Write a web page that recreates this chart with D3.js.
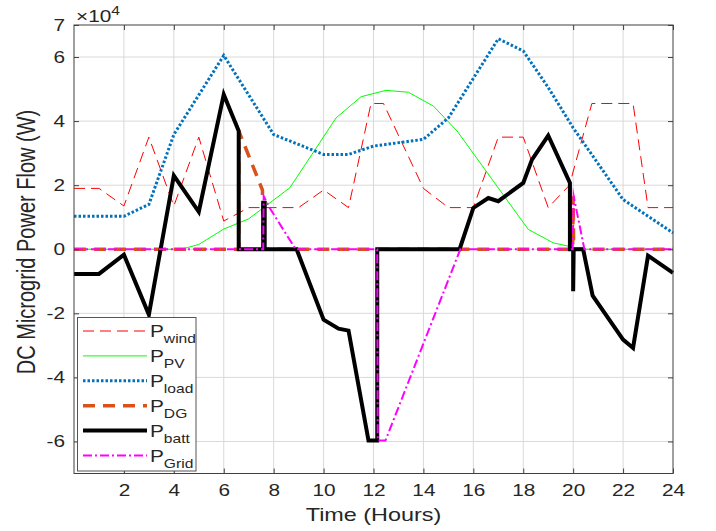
<!DOCTYPE html>
<html lang="en">
<head>
<meta charset="UTF-8" />
<title>DC Microgrid Power Flow</title>
<script src="https://d3js.org/d3.v7.min.js"></script>
<style>
  body { margin: 0; background: #fff; }
  text { font-family: "Liberation Sans", Arial, sans-serif; fill: #262626; }
  .grid line { stroke: #d9d9d9; stroke-width: 1; }
  .axis path, .axis line { stroke: #404040; }
</style>
</head>
<body>
<svg id="chart" width="716" height="531"></svg>
<script>
// hours / watts
const windT = [0, 1, 2, 3, 4, 5, 6, 7, 8, 9, 10, 11, 11.9, 12.4, 14, 15, 16, 17, 18, 19, 19.85, 20.75, 22.4, 23, 24];
const windP = [19000, 19000, 13500, 35000, 13500, 35000, 8800, 13000, 13000, 13000, 18500, 13000, 45500, 45500, 19000, 13000, 13000, 35000, 35000, 13000, 20000, 45500, 45500, 13000, 13000];

const pvT = [0, 4.3, 5, 6, 7, 8.65, 10.5, 11.5, 12.5, 13.4, 14.4, 15.35, 18.2, 19.2, 19.9, 20.1, 24];
const pvP = [0, 0, 1500, 6300, 9500, 19200, 41000, 47600, 49600, 49000, 44700, 36900, 6200, 2000, 800, 0, 0];

const loadT = [0, 2, 3, 4, 6, 8, 10, 11, 12, 14, 15, 17, 18, 19, 20, 22, 24];
const loadP = [10300, 10300, 14000, 35800, 60500, 35800, 29600, 29600, 32200, 34300, 41000, 65700, 61900, 50500, 37900, 15500, 5100];

const dgT = [0, 6.6, 6.6, 7.55, 7.6, 19.98, 20.0, 20.02, 24];
const dgP = [0, 0, 37000, 18500, 0, 0, 16500, 0, 0];

const battT = [0, 1, 2, 3, 4, 5, 6, 6.6, 6.6, 7.58, 7.58, 7.64, 7.64, 8.92, 10, 10.6, 11, 11.8, 12.15, 12.15, 15.45, 16, 16.6, 17, 18, 18.35, 19, 19.87, 19.87, 20.0, 20.0, 20.02, 20.4, 20.78, 22, 22.4, 23, 24];
const battP = [-7700, -7700, -1700, -20400, 23000, 11700, 48300, 36900, 0, 0, 14500, 14500, 0, 0, -22000, -24800, -25400, -59700, -59700, 0, 0, 12900, 16000, 15000, 20700, 28000, 35500, 20700, 0, 0, -13100, 0, 0, -14500, -28200, -30800, -2000, -7400];

const gridT = [0, 7.58, 7.6, 7.85, 8.88, 12.15, 12.17, 12.48, 15.48, 19.98, 20.02, 20.45, 24];
const gridP = [0, 0, 16600, 12800, 0, 0, -59700, -59700, 0, 0, 16600, 0, 0];

const xTicks = [2, 4, 6, 8, 10, 12, 14, 16, 18, 20, 22, 24];
const yTicks = [-60000, -40000, -20000, 0, 20000, 40000, 60000, 70000];

const labels = ["wind", "PV", "load", "DG", "batt", "Grid"];

// glyphs in the figure are a bit wider than normal
const SX = 1.3;

const mLeft = 74, mRight = 673, mTop = 25, mBottom = 473.5;

const svg = d3.select("#chart");

const x = d3.scaleLinear().domain([0, 24]).range([mLeft, mRight]);
const y = d3.scaleLinear().domain([-70000, 70000]).range([mBottom, mTop]);

// grid
const grid = svg.append("g").attr("class", "grid");
grid.selectAll(".gx")
  .data(xTicks.filter(d => d < 24))
  .enter()
  .append("line")
  .attr("x1", d => x(d)).attr("x2", d => x(d))
  .attr("y1", mTop).attr("y2", mBottom);
grid.selectAll(".gy")
  .data(yTicks.filter(d => d < 70000))
  .enter()
  .append("line")
  .attr("x1", mLeft).attr("x2", mRight)
  .attr("y1", d => y(d)).attr("y2", d => y(d));

// series
const styles = [
  { t: windT, p: windP, color: "#ff0000", width: 1, dash: "11,6" },
  { t: pvT, p: pvP, color: "#00ff00", width: 1, dash: null },
  { t: loadT, p: loadP, color: "#0072bd", width: 3, dash: "2.5,2" },
  { t: dgT, p: dgP, color: "#d95319", width: 3.5, dash: "12,8" },
  { t: battT, p: battP, color: "#000000", width: 4, dash: null },
  { t: gridT, p: gridP, color: "#ff00ff", width: 2, dash: "9,3,2,3" },
];

const line = d3.line().x(d => x(d[0])).y(d => y(d[1]));

styles.forEach(function (s) {
  svg.append("path")
    .datum(d3.zip(s.t, s.p))
    .attr("d", line)
    .attr("fill", "none")
    .attr("stroke", s.color)
    .attr("stroke-width", s.width)
    .attr("stroke-linejoin", "miter")
    .attr("stroke-miterlimit", 10)
    .attr("stroke-dasharray", s.dash);
});

// axes (box with inside ticks)
const ax = svg.append("g").attr("class", "axis");

const bottomAxis = ax.append("g")
  .attr("transform", `translate(0,${mBottom})`)
  .call(d3.axisBottom(x).tickValues(xTicks).tickSize(-5).tickPadding(11.5).tickSizeOuter(0));
bottomAxis.selectAll("text")
  .style("font-size", "16px")
  .attr("transform", `scale(${SX},1)`);

ax.append("g")
  .attr("transform", `translate(0,${mTop})`)
  .call(d3.axisTop(x).tickValues(xTicks).tickSize(-5).tickSizeOuter(0).tickFormat(""));

const leftAxis = ax.append("g")
  .attr("transform", `translate(${mLeft},0)`)
  .call(d3.axisLeft(y).tickValues(yTicks).tickSize(-5).tickPadding(9).tickSizeOuter(0)
    .tickFormat(d => d / 10000));
leftAxis.selectAll("text")
  .style("font-size", "16px")
  .attr("x", -9 / SX)
  .attr("transform", `scale(${SX},1)`);

ax.append("g")
  .attr("transform", `translate(${mRight},0)`)
  .call(d3.axisRight(y).tickValues(yTicks).tickSize(-5).tickSizeOuter(0).tickFormat(""));

ax.selectAll(".domain").remove();
svg.append("rect")
  .attr("x", mLeft).attr("y", mTop)
  .attr("width", mRight - mLeft).attr("height", mBottom - mTop)
  .attr("fill", "none")
  .attr("stroke", "#404040")
  .attr("stroke-width", 1);

// exponent
const ex = svg.append("text")
  .attr("transform", `translate(76,22) scale(${SX},1)`)
  .style("font-size", "16px");
ex.append("tspan").text("\u00d710");
ex.append("tspan").attr("dy", -7).style("font-size", "12px").text("4");

// axis labels
svg.append("text")
  .attr("transform", `translate(${(mLeft + mRight) / 2},521) scale(${SX},1)`)
  .attr("text-anchor", "middle")
  .style("font-size", "18px")
  .text("Time (Hours)");

svg.append("text")
  .attr("transform", `translate(35,242) rotate(-90) scale(1,${SX})`)
  .attr("text-anchor", "middle")
  .style("font-size", "20px")
  .text("DC Microgrid Power Flow (W)");

// legend
const lg = svg.append("g");
lg.append("rect")
  .attr("x", 77.5).attr("y", 317.5)
  .attr("width", 118.5).attr("height", 153.5)
  .attr("fill", "#fff")
  .attr("stroke", "#555")
  .attr("stroke-width", 1);

styles.forEach(function (s, i) {
  const ly = 331 + i * 24.9;
  lg.append("line")
    .attr("x1", 83).attr("x2", 147)
    .attr("y1", ly).attr("y2", ly)
    .attr("stroke", s.color)
    .attr("stroke-width", s.width)
    .attr("stroke-dasharray", s.dash);
  const t = lg.append("text")
    .attr("transform", `translate(150,${ly + 6}) scale(${SX},1)`)
    .style("font-size", "16px");
  t.append("tspan").text("P");
  t.append("tspan").attr("dy", 6).style("font-size", "12px").text(labels[i]);
});
</script>
</body>
</html>
